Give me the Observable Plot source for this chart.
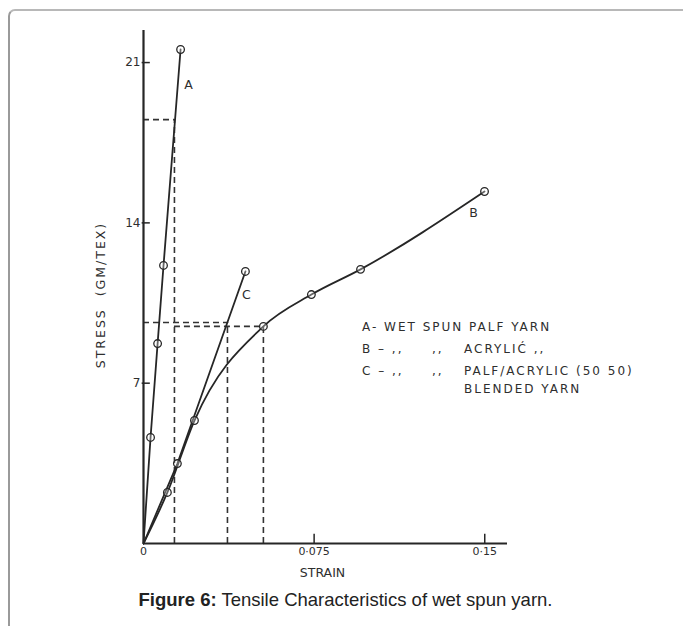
<!DOCTYPE html>
<html>
<head>
<meta charset="utf-8">
<script src="https://cdn.jsdelivr.net/npm/d3@7"></script>
<script src="https://cdn.jsdelivr.net/npm/@observablehq/plot@0.6"></script>
<style>
  html, body { margin: 0; padding: 0; background: #fff; }
  #wrap { position: relative; width: 683px; height: 626px; overflow: hidden; }
  #frame { position: absolute; left: 8px; top: 9px; width: 700px; height: 640px;
           border-left: 2px solid #9a9a9a; border-top: 2px solid #b8b8b8; border-top-left-radius: 7px; }
  #chart { position: absolute; left: 0; top: 0; }
  .legrow { position: absolute; font-family: "DejaVu Sans", sans-serif; font-size: 12px; letter-spacing: 2px;
            color: #2e2e2e; white-space: pre; line-height: 14px; }
  #ylabel { position: absolute; left: 100px; top: 295px; transform: translate(-50%, -50%) rotate(-90deg);
            font-family: "DejaVu Sans", sans-serif; font-size: 12.5px; letter-spacing: 2px; color: #2e2e2e; white-space: pre; }
  #caption { position: absolute; left: 0; width: 691px; top: 589px; text-align: center;
             font-family: "Liberation Sans", Arial, sans-serif; font-size: 18.5px; color: #222; white-space: nowrap; }
</style>
</head>
<body>
<div id="wrap">
  <div id="frame"></div>
  <div id="chart"></div>
  <div id="legend"></div>
  <div id="ylabel"></div>
  <div id="caption"><b>Figure 6:</b> Tensile Characteristics of wet spun yarn.</div>
</div>
<script>
// Curve A: wet spun PALF yarn
const strainA = [0, 0.0031, 0.0062, 0.0088, 0.0163];
const stressA = [0, 4.63, 8.73, 12.14, 21.57];
// Curve B: acrylic
const strainB = [0, 0.0105, 0.0224, 0.0527, 0.0738, 0.0954, 0.1499];
const stressB = [0, 2.23, 5.37, 9.48, 10.87, 11.97, 15.37];
// Curve C: PALF/acrylic blend
const strainC = [0, 0.0149, 0.0448];
const stressC = [0, 3.49, 11.88];

// Curve letters
const curveLetters = ["A", "B", "C"];
const letterStrain = [0.0198, 0.1451, 0.0452];
const letterStress = [20.0, 14.45, 10.85];

// Dashed guide lines (yield points)
const guideStart = [0, 0.0136, 0];
const guideStrain = [0.0136, 0.0527, 0.0369];
const guideStress = [18.51, 9.48, 9.65];

// Axis ticks and titles
const yTicks = [7, 14, 21];
const xTicks = [0, 0.075, 0.15];
const xTickLabels = ["0", "0·075", "0·15"];
const yTitle = "STRESS  (GM/TEX)";
const xTitle = "STRAIN";

// Legend text: [key, ditto, description]
const legendKeys = ["A- WET SPUN PALF YARN", "B – ,,", "C – ,,", ""];
const legendDitto = ["", ",,", ",,", ""];
const legendDesc = ["", "ACRYLIĆ ,,", "PALF/ACRYLIC (50 50)", "BLENDED YARN"];

const toPts = (xs, ys) => xs.map((x, i) => ({x, y: ys[i]}));
const A = toPts(strainA, stressA);
const B = toPts(strainB, stressB);
const C = toPts(strainC, stressC);
const letters = curveLetters.map((t, i) => ({t, x: letterStrain[i], y: letterStress[i]}));
const guides = guideStrain.map((x, i) => ({x0: guideStart[i], x, y: guideStress[i]}));

const ink = "#262626";
const font = '"DejaVu Sans", sans-serif';

const plot = Plot.plot({
  width: 683,
  height: 585,
  marginLeft: 143,
  marginRight: 176,
  marginTop: 30,
  marginBottom: 42,
  style: {fontFamily: font, fontSize: "12px", color: "#2e2e2e", background: "transparent"},
  x: {domain: [0, 0.16]},
  y: {domain: [0, 22.4]},
  marks: [
    // dashed guides
    Plot.ruleY(guides, {y: "y", x1: "x0", x2: "x", stroke: "#333", strokeWidth: 1.6, strokeDasharray: "6,4"}),
    Plot.ruleX(guides, {x: "x", y1: 0, y2: "y", stroke: "#333", strokeWidth: 1.6, strokeDasharray: "6,4"}),
    // axis lines
    Plot.ruleY([0], {stroke: ink, strokeWidth: 2.2}),
    Plot.ruleX([0], {stroke: ink, strokeWidth: 2.2}),
    // inward ticks
    Plot.ruleY(yTicks, {y: d => d, x1: -0.0006, x2: 0.003, stroke: ink, strokeWidth: 1.5}),
    Plot.ruleX(xTicks.slice(1), {x: d => d, y1: 0, y2: 0.4, stroke: ink, strokeWidth: 1.5}),
    Plot.axisY({ticks: yTicks, tickSize: 0, tickPadding: 3, label: null, fontSize: 12}),
    Plot.axisX({ticks: xTicks, tickFormat: (d, i) => xTickLabels[i], tickSize: 0, tickPadding: 4,
                label: null, fontSize: 11}),
    Plot.text([xTitle], {frameAnchor: "bottom", dx: -3, dy: 33, fontSize: 12.5, fill: "#2e2e2e", fontFamily: font,
                         letterSpacing: "1.5px"}),
    // curves
    Plot.line(A, {x: "x", y: "y", stroke: ink, strokeWidth: 1.8}),
    Plot.line(B, {x: "x", y: "y", stroke: ink, strokeWidth: 1.8, curve: "monotone-x"}),
    Plot.line(C, {x: "x", y: "y", stroke: ink, strokeWidth: 1.8}),
    // data circles
    Plot.dot([...A.slice(1), ...B.slice(1), ...C.slice(1)], {x: "x", y: "y", r: 3.8, fill: "white", fillOpacity: 0.3, stroke: ink, strokeWidth: 1.3}),
    // curve letters
    Plot.text(letters, {x: "x", y: "y", text: "t", fontSize: 12.5, fill: "#2e2e2e", fontFamily: font})
  ]
});
document.getElementById("chart").appendChild(plot);
document.getElementById("ylabel").textContent = yTitle;

// legend rows (HTML text placed beside the chart)
const rowTops = [320, 342, 364, 382];
const legend = document.getElementById("legend");
legendKeys.forEach((k, i) => {
  [[k, 362], [legendDitto[i], 432], [legendDesc[i], 464]].forEach(([t, left]) => {
    if (!t) return;
    const s = document.createElement("div");
    s.className = "legrow";
    s.style.left = left + "px";
    s.style.top = rowTops[i] + "px";
    s.textContent = t;
    legend.appendChild(s);
  });
});
</script>
</body>
</html>
